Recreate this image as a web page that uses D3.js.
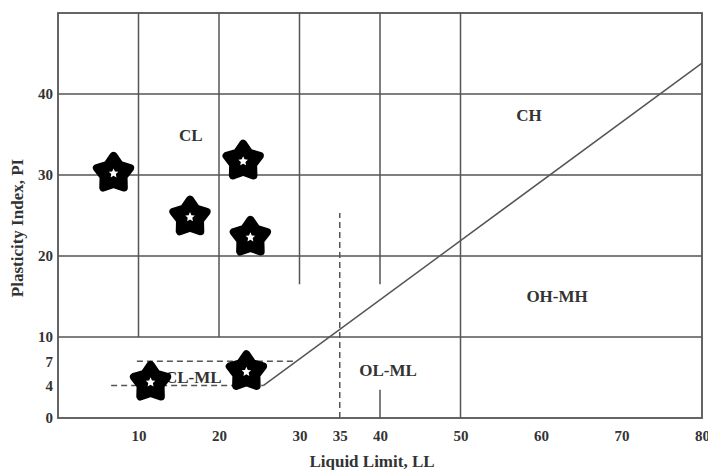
<!DOCTYPE html>
<html>
<head>
<meta charset="utf-8">
<script src="https://cdn.jsdelivr.net/npm/d3@7"></script>
<style>
  html, body { margin: 0; padding: 0; background: #fff; }
  svg text { font-family: "Liberation Serif", "Times New Roman", serif; font-weight: bold; fill: #333; }
</style>
</head>
<body>
<svg id="chart" width="708" height="470"></svg>
<script>
// ---- data ----
const xTicks = [10, 20, 30, 35, 40, 50, 60, 70, 80];
const yTicks = [0, 4, 7, 10, 20, 30, 40];
const samplesLL = [6.9, 16.4, 23.0, 23.9, 11.5, 23.4];
const samplesPI = [30.2, 24.8, 31.7, 22.3, 4.4, 5.7];
const regionNames = ["CL", "CH", "OH-MH", "OL-ML", "CL-ML"];
const regionLL = [16.5, 58.5, 62, 41, 16.8];
const regionPI = [34.9, 37.3, 15, 5.9, 5.0];
// chart structure lines (in LL / PI units)
const gridH = [10, 20, 30, 40];
const gridV = [[10, 10, 50], [20, 10, 50], [30, 16.5, 50], [40, 16.5, 50], [50, 0, 50], [40, 0, 3.5]];
const aLine = [[25.5, 4], [80, 43.8]];
const dashed = [[[9.8, 7], [29.6, 7]], [[6.6, 4], [25.5, 4]], [[35, 0], [35, 25.3]]];

// ---- layout ----
const W = 708, H = 470;
const m = { left: 58, top: 13, right: 6, bottom: 52 };
const svg = d3.select("#chart");
const x = d3.scaleLinear().domain([0, 80]).range([m.left, W - m.right]);
const y = d3.scaleLinear().domain([0, 50]).range([H - m.bottom, m.top]);
const lineCol = "#555";

const g = svg.append("g");

// horizontal grid
g.selectAll(".gh").data(gridH).enter().append("line")
  .attr("x1", x(0)).attr("x2", x(80))
  .attr("y1", d => y(d)).attr("y2", d => y(d))
  .attr("stroke", lineCol).attr("stroke-width", 1.5);

// vertical grid segments
g.selectAll(".gv").data(gridV).enter().append("line")
  .attr("x1", d => x(d[0])).attr("x2", d => x(d[0]))
  .attr("y1", d => y(d[1])).attr("y2", d => y(d[2]))
  .attr("stroke", lineCol).attr("stroke-width", 1.5);

// frame
g.append("rect")
  .attr("x", x(0)).attr("y", y(50))
  .attr("width", x(80) - x(0)).attr("height", y(0) - y(50))
  .attr("fill", "none").attr("stroke", lineCol).attr("stroke-width", 1.8);

// A-line
const lg = d3.line().x(d => x(d[0])).y(d => y(d[1]));
g.append("path").attr("d", lg(aLine))
  .attr("fill", "none").attr("stroke", lineCol).attr("stroke-width", 1.5);

// dashed lines
g.selectAll(".dl").data(dashed).enter().append("path")
  .attr("d", d => lg(d))
  .attr("fill", "none").attr("stroke", lineCol).attr("stroke-width", 1.5)
  .attr("stroke-dasharray", "6,4");

// axes
const xAxis = d3.axisBottom(x).tickValues(xTicks).tickSize(0).tickPadding(12).tickFormat(d3.format("d"));
const xa = svg.append("g").attr("transform", `translate(0,${y(0)})`).call(xAxis);
xa.select(".domain").remove();
xa.selectAll("text").attr("font-size", 15).attr("font-family", null);

const yAxis = d3.axisLeft(y).tickValues(yTicks).tickSize(0).tickPadding(5).tickFormat(d3.format("d"));
const ya = svg.append("g").attr("transform", `translate(${x(0)},0)`).call(yAxis);
ya.select(".domain").remove();
ya.selectAll("text").attr("font-size", 15).attr("font-family", null);

// axis titles
svg.append("text").attr("x", 372).attr("y", 467)
  .attr("text-anchor", "middle").attr("font-size", 17).text("Liquid Limit, LL");
svg.append("text").attr("transform", "translate(23,228) rotate(-90)")
  .attr("text-anchor", "middle").attr("font-size", 17).text("Plasticity Index, PI");

// region labels
g.selectAll(".rl").data(regionNames).enter().append("text")
  .attr("x", (d, i) => x(regionLL[i]))
  .attr("y", (d, i) => y(regionPI[i]))
  .attr("text-anchor", "middle").attr("dominant-baseline", "central")
  .attr("font-size", 17).text(d => d);

// star markers
function starPath(R, r) {
  const pts = [];
  for (let k = 0; k < 10; k++) {
    const rad = k % 2 === 0 ? R : r;
    const a = -Math.PI / 2 + k * Math.PI / 5;
    pts.push([rad * Math.cos(a), rad * Math.sin(a)]);
  }
  return "M" + pts.map(p => p.join(",")).join("L") + "Z";
}
const stars = g.selectAll(".st").data(samplesLL).enter().append("g")
  .attr("transform", (d, i) => `translate(${x(d)},${y(samplesPI[i])})`);
stars.append("path").attr("d", starPath(17.5, 10.5))
  .attr("fill", "#000").attr("stroke", "#000").attr("stroke-width", 8)
  .attr("stroke-linejoin", "round");
stars.append("path").attr("d", starPath(5, 2.4)).attr("fill", "#fff");
</script>
</body>
</html>
